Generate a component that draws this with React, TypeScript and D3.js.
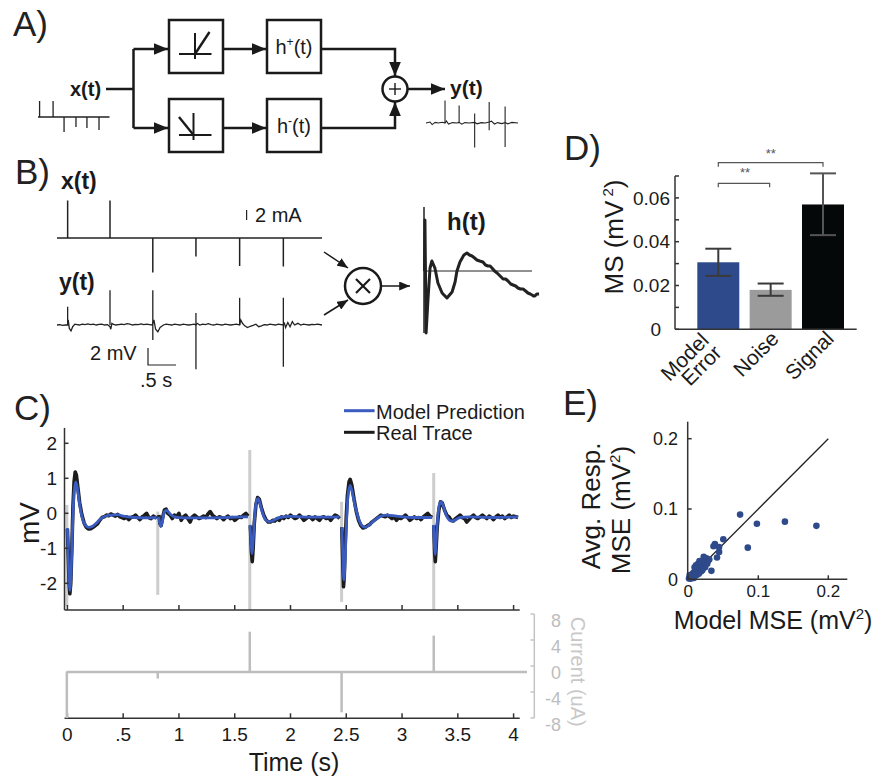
import React from 'react';
import * as d3 from 'd3';

const FONT = '"Liberation Sans", Arial, Helvetica, sans-serif';
const BLUE = '#3a5bbf';
const DARKBLUE = '#2f4a8a';

// ---------- Panel A (block diagram miniatures) ----------
const aInTimes = [0.1, 0.95, 1.64, 2.39, 3.08, 3.84];
const aInAmps = [8, 8, -7.5, -5, -5.5, -6.5];
const aOutTimes = [0.93, 1.62, 2.38, 3.09, 3.87];
const aOutUp = [11.3, 8.8, 4.8, 10.5, 8.3];
const aOutDown = [0, 0, -12.3, -3.6, -12];
const aOutTrace: [number, number][] = [
  [0, 0], [0.2, 0.5], [0.3, -0.8], [0.45, 0.3], [0.6, 0], [0.8, 0.4], [0.93, 0], [1.0, 1.0], [1.1, -0.5], [1.3, 0.2],
  [1.5, 0], [1.62, 0.3], [1.75, -0.6], [1.9, 0.2], [2.1, 0], [2.38, 0.3], [2.5, -0.4], [2.7, 0.2], [2.9, 0], [3.09, 0.5],
  [3.2, 0.9], [3.35, -0.5], [3.5, 0.2], [3.7, -0.3], [3.87, 0.2], [4.0, -0.4], [4.2, 0.3], [4.5, 0],
];

// ---------- Panel B ----------
const bStimTimes = [0.19, 0.946, 1.71, 2.48, 3.26, 4.04];
const bStimAmps = [7.5, 7.5, -6.9, -3.7, -5.6, -5.7]; // mA
const bArtUp = [2.15, 4.1, 4.1, 1.4, 3.2, 3.2]; // mV
const bArtDown = [0, 0, -1.76, -5.2, 0, -4.9];
const bTrace: [number, number][] = [
  [0.0, 0.0], [0.05, 0.05], [0.1, -0.05], [0.15, 0.0], [0.19, 0.0], [0.2, 0.6], [0.22, -0.4], [0.25, -0.7], [0.28, -0.2],
  [0.32, 0.1], [0.36, 0.05], [0.4, 0.0], [0.45, 0.1], [0.5, 0.05], [0.55, 0.12], [0.6, 0.05], [0.65, 0.1], [0.7, 0.0],
  [0.75, 0.08], [0.8, 0.1], [0.85, 0.0], [0.9, 0.05], [0.946, -0.2], [0.96, -0.5], [0.98, 0.2], [1.0, 0.1], [1.05, 0.0],
  [1.1, 0.05], [1.15, 0.1], [1.2, 0.05], [1.25, 0.15], [1.3, 0.1], [1.35, 0.0], [1.4, 0.08], [1.45, 0.05], [1.5, 0.12],
  [1.55, 0.05], [1.6, 0.1], [1.65, 0.05], [1.7, 0.0], [1.71, 0.2], [1.73, 0.6], [1.76, -0.5], [1.8, -0.8], [1.84, -0.3],
  [1.9, 0.0], [1.95, 0.1], [2.0, 0.05], [2.05, 0.0], [2.1, 0.1], [2.15, 0.05], [2.2, 0.0], [2.25, 0.1], [2.3, 0.05],
  [2.35, 0.0], [2.4, 0.05], [2.45, 0.1], [2.48, 0.0], [2.5, 0.2], [2.55, 0.0], [2.6, 0.1], [2.65, 0.05], [2.7, 0.15],
  [2.75, 0.05], [2.8, 0.0], [2.85, 0.1], [2.9, 0.05], [2.95, 0.0], [3.0, 0.1], [3.05, 0.05], [3.1, 0.0], [3.15, 0.05],
  [3.2, 0.1], [3.26, 0.0], [3.28, 0.6], [3.31, 0.2], [3.35, -0.1], [3.4, -0.3], [3.45, -0.15], [3.5, -0.05], [3.55, 0.1],
  [3.6, -0.2], [3.65, -0.1], [3.7, 0.05], [3.75, 0.0], [3.8, 0.1], [3.85, 0.05], [3.9, 0.0], [3.95, 0.1], [4.0, 0.05],
  [4.04, 0.0], [4.06, 0.2], [4.08, -0.3], [4.12, 0.3], [4.16, -0.2], [4.2, 0.4], [4.24, 0.0], [4.3, 0.2], [4.35, 0.0],
  [4.4, 0.1], [4.45, 0.05], [4.5, 0.0], [4.55, 0.08], [4.6, 0.05], [4.65, 0.1], [4.73, 0.0],
];
const hKernel: [number, number][] = [
  [2, 0], [4, 5.1], [9, -6.2], [17, -2.9], [26, 0.3], [34, 1.0], [47, 0.3], [60, -1.2], [78, -2.2], [99, -2.7],
  [121, -2.1], [134, -1.1], [142, 0], [155, 0.9], [172, 1.6], [185, 1.8], [196, 1.6], [207, 1.5], [218, 1.3], [228, 1.1],
  [240, 1.0], [254, 0.9], [265, 0.6], [276, 0.5], [285, 0.5], [293, 0.3], [304, 0.0], [315, -0.2], [328, -0.5], [341, -0.8],
  [352, -0.8], [362, -1.0], [374, -1.3], [384, -1.4], [395, -1.5], [405, -1.7], [416, -1.8], [427, -1.8], [438, -2.0],
  [448, -2.2], [458, -2.3], [466, -2.4], [472, -2.5], [478, -2.5], [486, -2.3], [496, -2.3],
];

// ---------- Panel C ----------
const cTicks = [0, 0.5, 1, 1.5, 2, 2.5, 3, 3.5, 4];
const cTickLabels = ['0', '.5', '1', '1.5', '2', '2.5', '3', '3.5', '4'];
const cYTicks = [2, 1, 0, -1, -2];
const stimTimes = [-0.005, 0.81, 1.635, 2.458, 3.284];
const stimCurrent = [-7.1, -1, 6.2, -6.2, 5.6]; // uA
const artifactTop = [0.24, 0.05, 1.81, 0.33, 1.15];
const artifactBottom = [-2.65, -2.33, -2.76, -2.53, -2.76];
const currentTicks = [8, 4, 0, -4, -8];

const realTrace: [number, number][][] = [
  [[0.0, -0.45], [0.008, -1.2], [0.015, -2.0], [0.022, -2.3], [0.03, -2.0], [0.04, -1.0], [0.05, 0.2], [0.06, 0.9], [0.07, 1.18],
   [0.08, 1.1], [0.095, 0.7], [0.11, 0.3], [0.13, -0.05], [0.15, -0.28], [0.17, -0.4], [0.19, -0.45], [0.21, -0.44], [0.23, -0.4],
   [0.25, -0.35], [0.27, -0.3], [0.29, -0.2], [0.31, -0.12], [0.33, -0.1], [0.35, -0.05], [0.37, -0.07], [0.39, -0.02], [0.41, -0.05],
   [0.43, -0.08], [0.45, -0.03], [0.47, -0.1], [0.49, -0.12], [0.51, -0.15], [0.53, -0.1], [0.55, -0.18], [0.57, -0.12], [0.59, -0.1],
   [0.61, -0.05], [0.63, -0.12], [0.65, -0.18], [0.67, -0.1], [0.69, -0.06], [0.71, 0.0], [0.73, -0.12], [0.75, -0.15], [0.77, -0.08],
   [0.79, -0.12], [0.8, -0.15]],
  [[0.82, -0.05], [0.83, -0.3], [0.84, -0.35], [0.855, -0.1], [0.87, 0.1], [0.885, 0.12], [0.9, 0.0], [0.92, -0.05], [0.94, -0.15],
   [0.96, -0.05], [0.98, -0.1], [1.0, 0.0], [1.02, -0.2], [1.04, -0.1], [1.06, -0.05], [1.08, -0.15], [1.1, -0.25], [1.12, -0.1],
   [1.14, -0.05], [1.16, -0.1], [1.18, -0.15], [1.2, -0.12], [1.22, -0.08], [1.24, -0.12], [1.26, -0.02], [1.28, 0.05], [1.3, -0.05],
   [1.32, -0.1], [1.34, -0.15], [1.36, -0.1], [1.38, -0.12], [1.4, -0.18], [1.42, -0.12], [1.44, -0.08], [1.46, -0.15], [1.48, -0.12],
   [1.5, -0.2], [1.52, -0.15], [1.54, -0.1], [1.56, -0.12], [1.58, -0.05], [1.6, 0.0], [1.62, -0.08]],
  [[1.64, -0.35], [1.65, -1.1], [1.657, -1.38], [1.665, -1.0], [1.675, -0.3], [1.69, 0.25], [1.705, 0.45], [1.72, 0.4], [1.74, 0.15],
   [1.76, -0.05], [1.78, -0.18], [1.8, -0.25], [1.82, -0.25], [1.84, -0.2], [1.86, -0.22], [1.88, -0.15], [1.9, -0.2], [1.92, -0.1],
   [1.94, -0.15], [1.96, -0.08], [1.98, -0.12], [2.0, -0.05], [2.02, -0.1], [2.04, -0.15], [2.06, -0.12], [2.08, -0.05], [2.1, -0.12],
   [2.12, -0.2], [2.14, -0.15], [2.16, -0.1], [2.18, -0.12], [2.2, -0.18], [2.22, -0.1], [2.24, -0.15], [2.26, -0.2], [2.28, -0.12],
   [2.3, -0.1], [2.32, -0.15], [2.34, -0.12], [2.36, -0.2], [2.38, -0.12], [2.4, -0.05], [2.42, -0.08], [2.44, -0.15]],
  [[2.46, -0.4], [2.468, -1.3], [2.475, -2.1], [2.482, -1.8], [2.49, -0.9], [2.5, -0.1], [2.51, 0.5], [2.525, 0.9], [2.535, 0.97],
   [2.55, 0.8], [2.57, 0.4], [2.59, 0.05], [2.61, -0.2], [2.63, -0.35], [2.65, -0.42], [2.67, -0.4], [2.69, -0.35], [2.71, -0.32],
   [2.73, -0.25], [2.75, -0.2], [2.77, -0.15], [2.79, -0.1], [2.81, -0.05], [2.83, -0.08], [2.85, -0.1], [2.87, -0.05], [2.89, -0.1],
   [2.91, -0.15], [2.93, -0.1], [2.95, -0.2], [2.97, -0.12], [2.99, -0.15], [3.01, -0.1], [3.03, -0.05], [3.05, -0.12], [3.07, -0.2],
   [3.09, -0.15], [3.11, -0.1], [3.13, -0.15], [3.15, -0.12], [3.17, -0.18], [3.19, -0.1], [3.21, -0.05], [3.23, 0.0], [3.25, -0.08],
   [3.27, -0.12]],
  [[3.285, -0.35], [3.292, -1.1], [3.298, -1.38], [3.305, -1.0], [3.315, -0.4], [3.33, 0.1], [3.345, 0.33], [3.36, 0.3], [3.38, 0.1],
   [3.4, -0.05], [3.42, -0.1], [3.44, -0.2], [3.46, -0.22], [3.48, -0.15], [3.5, -0.1], [3.52, -0.05], [3.54, -0.12], [3.56, -0.15],
   [3.58, -0.25], [3.6, -0.18], [3.62, -0.1], [3.64, -0.05], [3.66, -0.12], [3.68, -0.15], [3.7, -0.1], [3.72, -0.05], [3.74, -0.1],
   [3.76, -0.15], [3.78, -0.08], [3.8, -0.12], [3.82, -0.18], [3.84, -0.1], [3.86, -0.05], [3.88, -0.12], [3.9, -0.08], [3.92, -0.15],
   [3.94, -0.1], [3.96, -0.05], [3.98, -0.12], [4.0, -0.08], [4.02, -0.1], [4.04, -0.12]],
];
const modelTrace: [number, number][][] = [
  [[0.0, -0.42], [0.01, -1.5], [0.022, -2.2], [0.032, -1.8], [0.045, -0.5], [0.06, 0.6], [0.075, 0.9], [0.09, 0.7], [0.11, 0.25],
   [0.13, -0.1], [0.16, -0.33], [0.19, -0.4], [0.22, -0.38], [0.26, -0.28], [0.3, -0.15], [0.35, -0.07], [0.4, -0.05], [0.45, -0.04],
   [0.5, -0.08], [0.6, -0.12], [0.7, -0.13], [0.8, -0.12]],
  [[0.82, -0.1], [0.835, -0.38], [0.85, -0.25], [0.87, 0.05], [0.89, 0.08], [0.92, -0.02], [0.96, -0.1], [1.05, -0.13], [1.2, -0.13],
   [1.4, -0.12], [1.62, -0.1]],
  [[1.637, -0.33], [1.648, -0.9], [1.655, -1.15], [1.665, -0.8], [1.68, -0.05], [1.695, 0.35], [1.71, 0.42], [1.725, 0.3], [1.75, 0.0],
   [1.78, -0.2], [1.81, -0.24], [1.85, -0.2], [1.9, -0.12], [2.0, -0.09], [2.2, -0.11], [2.44, -0.1]],
  [[2.46, -0.4], [2.47, -1.3], [2.478, -1.9], [2.488, -1.5], [2.5, -0.4], [2.515, 0.5], [2.535, 0.8], [2.55, 0.65], [2.58, 0.2],
   [2.61, -0.15], [2.64, -0.35], [2.67, -0.4], [2.71, -0.32], [2.76, -0.18], [2.81, -0.08], [2.86, -0.05], [2.95, -0.08], [3.1, -0.12],
   [3.27, -0.12]],
  [[3.282, -0.33], [3.29, -0.9], [3.297, -1.18], [3.305, -0.85], [3.318, -0.2], [3.335, 0.25], [3.352, 0.33], [3.37, 0.2], [3.4, -0.08],
   [3.44, -0.22], [3.47, -0.2], [3.52, -0.12], [3.6, -0.1], [3.8, -0.12], [4.04, -0.1]],
];

// ---------- Panel D ----------
const dCategories = ['Model Error', 'Noise', 'Signal'];
const dValues = [0.0306, 0.018, 0.057];
const dErrLow = [0.0244, 0.0153, 0.043];
const dErrHigh = [0.0368, 0.0209, 0.0712];
const dColors = [DARKBLUE, '#9b9b9b', '#050808'];
const dMajorTicks = [0, 0.02, 0.04, 0.06];
const dMinorTicks = [0.01, 0.03, 0.05, 0.07];

// ---------- Panel E ----------
const eTicks = [0, 0.1, 0.2];
const eModelMSE = [
  0.001, 0.002, 0.003, 0.004, 0.005, 0.006, 0.006, 0.007, 0.008, 0.009, 0.010, 0.010, 0.011, 0.012, 0.013, 0.013, 0.014,
  0.015, 0.016, 0.017, 0.018, 0.019, 0.020, 0.021, 0.022, 0.023, 0.024, 0.025, 0.026, 0.027, 0.012, 0.008, 0.015, 0.018,
  0.011, 0.009, 0.016, 0.020, 0.028, 0.030, 0.022, 0.004, 0.002, 0.033, 0.041, 0.044, 0.044, 0.038, 0.036, 0.050, 0.074,
  0.085, 0.098, 0.138, 0.183,
];
const eAvgMSE = [
  0.001, 0.003, 0.002, 0.005, 0.004, 0.007, 0.003, 0.009, 0.006, 0.011, 0.008, 0.013, 0.016, 0.010, 0.019, 0.014, 0.022,
  0.012, 0.017, 0.025, 0.020, 0.015, 0.023, 0.019, 0.027, 0.021, 0.017, 0.024, 0.030, 0.022, 0.006, 0.002, 0.008, 0.011,
  0.020, 0.017, 0.026, 0.013, 0.026, 0.028, 0.032, 0.001, 0.006, 0.012, 0.031, 0.039, 0.046, 0.050, 0.047, 0.057, 0.092,
  0.045, 0.079, 0.082, 0.076,
];

export default function App() {
  // Panel A scales
  const xa = d3.scaleLinear().domain([0, 4.5]).range([38, 109.5]);
  const ya = d3.scaleLinear().domain([0, 1]).range([117, 115]);
  const xo = d3.scaleLinear().domain([0, 4.5]).range([426, 518]);
  const yo = d3.scaleLinear().domain([0, 1]).range([123, 121]);
  const aOutLine = d3.line<[number, number]>().x(d => xo(d[0])).y(d => yo(d[1]))(aOutTrace) || '';

  // Panel B scales
  const xb = d3.scaleLinear().domain([0, 4.73]).range([57, 322]);
  const ybX = d3.scaleLinear().domain([0, 2]).range([238, 228]);
  const ybY = d3.scaleLinear().domain([0, 2]).range([325, 308]);
  const bLine = d3.line<[number, number]>().x(d => xb(d[0])).y(d => ybY(d[1]))(bTrace) || '';
  const xh = d3.scaleLinear().domain([0, 500]).range([424, 540]);
  const yh = d3.scaleLinear().domain([0, 1]).range([271, 261]);
  const hLine = d3.line<[number, number]>().x(d => xh(d[0])).y(d => yh(d[1]))(hKernel) || '';

  // Panel C scales
  const xc = d3.scaleLinear().domain([0, 4]).range([67.4, 513.6]);
  const yc = d3.scaleLinear().domain([-2, 2]).range([583.3, 443.3]);
  const yi = d3.scaleLinear().domain([-8, 8]).range([724, 620]);
  const realGen = d3.line<[number, number]>().x(d => xc(d[0])).y(d => yc(d[1]));
  const modelGen = d3.line<[number, number]>().x(d => xc(d[0])).y(d => yc(d[1])).curve(d3.curveMonotoneX);
  const cTop = yc(2.44);
  const cBottom = 610;
  const cLeft = xc(-0.026);
  const cRight = xc(4.055);
  const iAxisY = 718.3;

  // Panel D scales
  const yd = d3.scaleLinear().domain([0, 0.07]).range([329.3, 176]);
  const xd = d3.scalePoint<string>().domain(dCategories).range([718.3, 823]);
  const barW = 42;

  // Panel E scales
  const xe = d3.scaleLinear().domain([0, 0.2]).range([688.3, 828.3]);
  const ye = d3.scaleLinear().domain([0, 0.2]).range([579.3, 438.7]);

  const ink = '#1a1a1a';
  const axisCol = '#333';

  return (
    <svg width={882} height={777} style={{ position: 'absolute', left: 0, top: 0, background: '#fff' }} fontFamily={FONT}>
      <defs>
        <marker id="arrA" viewBox="0 0 12 10" refX="12" refY="5" markerWidth="14" markerHeight="12" markerUnits="userSpaceOnUse" orient="auto">
          <path d="M0,0 L12,5 L0,10 z" fill={ink} />
        </marker>
        <marker id="arrB" viewBox="0 0 12 10" refX="12" refY="5" markerWidth="11" markerHeight="9" markerUnits="userSpaceOnUse" orient="auto">
          <path d="M0,0 L12,5 L0,10 z" fill={ink} />
        </marker>
      </defs>

      {/* ================= Panel A ================= */}
      <text x={13} y={36} fontSize={35} fill="#222">A)</text>
      <g stroke={ink} strokeWidth={2.5} fill="none">
        <rect x={169} y={20} width={54} height={53} />
        <rect x={267} y={20} width={54} height={53} />
        <rect x={169} y={99} width={54} height={53} />
        <rect x={267} y={99} width={54} height={53} />
        <path d="M106,89 H133.5 M133.5,49 V128" />
        <path d="M133.5,49 H168" markerEnd="url(#arrA)" />
        <path d="M133.5,128 H168" markerEnd="url(#arrA)" />
        <path d="M223,49 H266" markerEnd="url(#arrA)" />
        <path d="M223,128 H266" markerEnd="url(#arrA)" />
        <path d="M321,49 H395 V76" markerEnd="url(#arrA)" />
        <path d="M321,128 H395 V102" markerEnd="url(#arrA)" />
        <path d="M408,89 H445" markerEnd="url(#arrA)" />
        <circle cx={395} cy={89} r={12.5} />
      </g>
      <g stroke={ink} strokeWidth={1.4}>
        <line x1={389} x2={401} y1={89} y2={89} />
        <line x1={395} x2={395} y1={83} y2={95} />
        <line x1={179} x2={211.5} y1={54} y2={54} strokeWidth={2} />
        <line x1={195} x2={195} y1={33} y2={59} strokeWidth={2} />
        <line x1={195} x2={209.5} y1={54} y2={32} strokeWidth={2.4} />
        <line x1={179} x2={211.5} y1={135} y2={135} strokeWidth={2} />
        <line x1={193.5} x2={193.5} y1={113} y2={140} strokeWidth={2} />
        <line x1={179} x2={193.5} y1={117} y2={135} strokeWidth={2.4} />
      </g>
      <text x={70} y={89} dy="0.35em" fontSize={20} fontWeight="bold" fill={ink}>x(t)</text>
      <text x={450} y={88} dy="0.35em" fontSize={21} fontWeight="bold" fill={ink}>y(t)</text>
      <text x={294} y={47} dy="0.35em" fontSize={20} textAnchor="middle" fill={ink}>h<tspan fontSize={12} dy="-8">+</tspan><tspan dy="8">(t)</tspan></text>
      <text x={294} y={126} dy="0.35em" fontSize={20} textAnchor="middle" fill={ink}>h<tspan fontSize={12} dy="-8">-</tspan><tspan dy="8">(t)</tspan></text>
      <g stroke="#222" strokeWidth={1.3}>
        <line x1={xa(0)} x2={xa(4.5)} y1={ya(0)} y2={ya(0)} />
        {aInTimes.map((t, i) => (
          <line key={i} x1={xa(t)} x2={xa(t)} y1={ya(0)} y2={ya(aInAmps[i])} />
        ))}
        <path d={aOutLine} fill="none" strokeWidth={1.1} />
        {aOutTimes.map((t, i) => (
          <line key={'o' + i} x1={xo(t)} x2={xo(t)} y1={yo(aOutUp[i])} y2={yo(aOutDown[i])} strokeWidth={1.1} />
        ))}
      </g>

      {/* ================= Panel B ================= */}
      <text x={15} y={184} fontSize={35} fill="#222">B)</text>
      <text x={61} y={181} dy="0.35em" fontSize={23} fontWeight="bold" fill={ink}>x(t)</text>
      <text x={59} y={282} dy="0.35em" fontSize={23} fontWeight="bold" fill={ink}>y(t)</text>
      <g stroke="#222" strokeWidth={1.5}>
        <line x1={xb(0)} x2={xb(4.73)} y1={ybX(0)} y2={ybX(0)} />
        {bStimTimes.map((t, i) => (
          <line key={i} x1={xb(t)} x2={xb(t)} y1={ybX(0)} y2={ybX(bStimAmps[i])} />
        ))}
        <path d={bLine} fill="none" strokeWidth={1.3} />
        {bStimTimes.map((t, i) => (
          <line key={'a' + i} x1={xb(t)} x2={xb(t)} y1={ybY(bArtUp[i])} y2={ybY(bArtDown[i])} strokeWidth={1.3} />
        ))}
        <line x1={246.6} x2={246.6} y1={210} y2={210 + ybX(0) - ybX(2)} strokeWidth={1.2} />
        <path d={`M148,348 V${348 + ybY(0) - ybY(2)} H${148 + xb(0.5) - xb(0)}`} fill="none" strokeWidth={1.2} />
      </g>
      <text x={255} y={215} dy="0.35em" fontSize={20} fill={ink}>2 mA</text>
      <text x={90} y={353} dy="0.35em" fontSize={20} fill={ink}>2 mV</text>
      <text x={140} y={380} dy="0.35em" fontSize={20} fill={ink}>.5 s</text>
      <g stroke={ink} strokeWidth={1.5} fill="none">
        <path d="M324,252 L348,268" markerEnd="url(#arrB)" />
        <path d="M324,315 L348,300" markerEnd="url(#arrB)" />
        <path d="M381,286 H410" markerEnd="url(#arrB)" />
        <circle cx={363} cy={286} r={18} strokeWidth={2.5} />
        <line x1={356} y1={279} x2={370} y2={293} strokeWidth={2.2} />
        <line x1={370} y1={279} x2={356} y2={293} strokeWidth={2.2} />
      </g>
      <g stroke="#222" fill="none">
        <line x1={424} x2={424} y1={207} y2={333} strokeWidth={1.5} />
        <line x1={424} x2={532} y1={yh(0)} y2={yh(0)} strokeWidth={1.2} />
        <path d={hLine} strokeWidth={3} strokeLinejoin="round" />
      </g>
      <text x={447} y={222} dy="0.35em" fontSize={24} fontWeight="bold" fill={ink}>h(t)</text>

      {/* ================= Panel C ================= */}
      <text x={14} y={420} fontSize={35} fill="#222">C)</text>
      <line x1={344} x2={374.6} y1={410.7} y2={410.7} stroke={BLUE} strokeWidth={3} />
      <text x={376} y={411.7} dy="0.35em" fontSize={20} fill={ink}>Model Prediction</text>
      <line x1={344} x2={374.6} y1={432.3} y2={432.3} stroke={ink} strokeWidth={3} />
      <text x={376} y={433} dy="0.35em" fontSize={20} fill={ink}>Real Trace</text>

      {stimTimes.map((t, i) => (
        <line key={'art' + i} x1={xc(t)} x2={xc(t)} y1={yc(artifactTop[i])} y2={yc(artifactBottom[i])} stroke="#cdcdcd" strokeWidth={3} />
      ))}
      {realTrace.map((seg, i) => (
        <path key={'r' + i} d={realGen(seg) || ''} fill="none" stroke="#1c1c1c" strokeWidth={3.6} strokeLinejoin="round" />
      ))}
      {modelTrace.map((seg, i) => (
        <path key={'m' + i} d={modelGen(seg) || ''} fill="none" stroke={BLUE} strokeWidth={2.8} strokeLinejoin="round" />
      ))}
      <g stroke={axisCol} strokeWidth={1.5}>
        <line x1={cLeft} x2={cLeft} y1={cTop} y2={cBottom} />
        <line x1={cLeft} x2={cRight} y1={cBottom} y2={cBottom} />
        {cYTicks.map(v => (
          <line key={'yt' + v} x1={cLeft} x2={cLeft + 4} y1={yc(v)} y2={yc(v)} />
        ))}
        {cTicks.map(v => (
          <line key={'xt' + v} x1={xc(v)} x2={xc(v)} y1={cBottom} y2={cBottom - 5} />
        ))}
        <line x1={cLeft} x2={cRight} y1={iAxisY} y2={iAxisY} />
        {cTicks.map(v => (
          <line key={'xt2' + v} x1={xc(v)} x2={xc(v)} y1={iAxisY} y2={iAxisY - 5} />
        ))}
      </g>
      {cYTicks.map(v => (
        <text key={'ytl' + v} x={57} y={yc(v)} dy="0.35em" fontSize={19} textAnchor="end" fill={ink}>{v}</text>
      ))}
      <text transform={`translate(39,523) rotate(-90)`} fontSize={28} textAnchor="middle" fill={ink}>mV</text>

      <g stroke="#bdbdbd" strokeWidth={2.5}>
        <line x1={xc(-0.01)} x2={527} y1={yi(0)} y2={yi(0)} />
        {stimTimes.map((t, i) => (
          <line key={'st' + i} x1={xc(t)} x2={xc(t)} y1={yi(0)} y2={yi(stimCurrent[i])} />
        ))}
      </g>
      <g stroke="#c4c4c4" strokeWidth={1.5}>
        <line x1={534.3} x2={534.3} y1={yi(8) - 6} y2={yi(-8) - 6} />
        {currentTicks.map(v => (
          <line key={'ct' + v} x1={530.5} x2={534.3} y1={yi(v) - 6} y2={yi(v) - 6} />
        ))}
      </g>
      {currentTicks.map(v => (
        <text key={'ctl' + v} x={561} y={yi(v) + 1} dy="0.35em" fontSize={18} textAnchor="end" fill="#bdbdbd">{v}</text>
      ))}
      <text transform="translate(571,671.7) rotate(90)" fontSize={20} textAnchor="middle" fill="#c8c8c8">Current (uA)</text>
      {cTicks.map((v, i) => (
        <text key={'xtl' + v} x={xc(v)} y={734} dy="0.35em" fontSize={19} textAnchor="middle" fill={ink}>{cTickLabels[i]}</text>
      ))}
      <text x={294} y={762} dy="0.35em" fontSize={25} textAnchor="middle" fill={ink}>Time (s)</text>

      {/* ================= Panel D ================= */}
      <text x={564} y={160} fontSize={35} fill="#222">D)</text>
      {dCategories.map((c, i) => (
        <rect key={c} x={(xd(c) as number) - barW / 2} y={yd(dValues[i])} width={barW} height={yd(0) - yd(dValues[i])} fill={dColors[i]} />
      ))}
      <g strokeWidth={2}>
        {dCategories.map((c, i) => {
          const cx = xd(c) as number;
          const col = i === 2 ? '#555' : '#3a3a3a';
          return (
            <g key={'eb' + c} stroke={col}>
              <line x1={cx} x2={cx} y1={yd(dErrLow[i])} y2={yd(dErrHigh[i])} />
              <line x1={cx - 13} x2={cx + 13} y1={yd(dErrLow[i])} y2={yd(dErrLow[i])} />
              <line x1={cx - 13} x2={cx + 13} y1={yd(dErrHigh[i])} y2={yd(dErrHigh[i])} />
            </g>
          );
        })}
      </g>
      <g stroke={axisCol} strokeWidth={1.5}>
        <line x1={675} x2={675} y1={yd(0.07)} y2={yd(0)} />
        <line x1={675} x2={856.7} y1={yd(0)} y2={yd(0)} />
        {dMajorTicks.concat(dMinorTicks).map(v => (
          <line key={'dt' + v} x1={675} x2={679} y1={yd(v)} y2={yd(v)} />
        ))}
      </g>
      {dMajorTicks.map(v => (
        <text key={'dtl' + v} x={v === 0 ? 661 : 670} y={yd(v)} dy="0.35em" fontSize={19} textAnchor="end" fill={ink}>{v === 0 ? '0' : v.toFixed(2)}</text>
      ))}
      <text transform="translate(623,237) rotate(-90)" fontSize={26} textAnchor="middle" fill={ink}>MS (mV<tspan fontSize={15} dy="-10"> 2</tspan><tspan dy="10">)</tspan></text>
      <g stroke="#555" strokeWidth={1.2} fill="none">
        <path d={`M${xd('Model Error')},187.3 V183.3 H${(xd('Noise') as number) - 1} V187.3`} />
        <path d={`M${xd('Model Error')},166.7 V162.7 H${xd('Signal')} V166.7`} />
      </g>
      <text x={745} y={177} fontSize={13} textAnchor="middle" fill="#555">**</text>
      <text x={770.7} y={158} fontSize={13} textAnchor="middle" fill="#555">**</text>
      <text transform="translate(710,341.7) rotate(-45)" fontSize={21} textAnchor="end" fill={ink}>Model</text>
      <text transform="translate(723,354) rotate(-45)" fontSize={21} textAnchor="end" fill={ink}>Error</text>
      <text transform="translate(780,340) rotate(-45)" fontSize={21} textAnchor="end" fill={ink}>Noise</text>
      <text transform="translate(835,340) rotate(-45)" fontSize={21} textAnchor="end" fill={ink}>Signal</text>

      {/* ================= Panel E ================= */}
      <text x={563} y={415} fontSize={35} fill="#222">E)</text>
      <line x1={xe(0)} y1={ye(0)} x2={xe(0.2)} y2={ye(0.2)} stroke="#222" strokeWidth={1.3} />
      {eModelMSE.map((v, i) => (
        <circle key={'p' + i} cx={xe(v)} cy={ye(eAvgMSE[i])} r={3.3} fill={DARKBLUE} />
      ))}
      <g stroke={axisCol} strokeWidth={1.5}>
        <line x1={687.7} x2={687.7} y1={421.7} y2={ye(0)} />
        <line x1={687.7} x2={847.3} y1={ye(0)} y2={ye(0)} />
        {eTicks.map(v => (
          <line key={'ey' + v} x1={687.7} x2={691.7} y1={ye(v)} y2={ye(v)} />
        ))}
        {eTicks.map(v => (
          <line key={'ex' + v} x1={xe(v)} x2={xe(v)} y1={ye(0)} y2={ye(0) - 4} />
        ))}
      </g>
      {eTicks.map(v => (
        <text key={'eyl' + v} x={678} y={ye(v)} dy="0.35em" fontSize={18} textAnchor="end" fill={ink}>{v === 0 ? '0' : String(v)}</text>
      ))}
      {eTicks.map(v => (
        <text key={'exl' + v} x={xe(v)} y={591} dy="0.35em" fontSize={17} textAnchor="middle" fill={ink}>{v === 0 ? '0' : String(v)}</text>
      ))}
      <text transform="translate(600,506) rotate(-90)" fontSize={26} textAnchor="middle" fill={ink}>Avg. Resp.</text>
      <text transform="translate(630,510) rotate(-90)" fontSize={26} textAnchor="middle" fill={ink}>MSE (mV<tspan fontSize={15} dy="-10">2</tspan><tspan dy="10">)</tspan></text>
      <text x={773} y={620} dy="0.35em" fontSize={25} textAnchor="middle" fill={ink}>Model MSE (mV<tspan fontSize={15} dy="-10">2</tspan><tspan dy="10">)</tspan></text>
    </svg>
  );
}
